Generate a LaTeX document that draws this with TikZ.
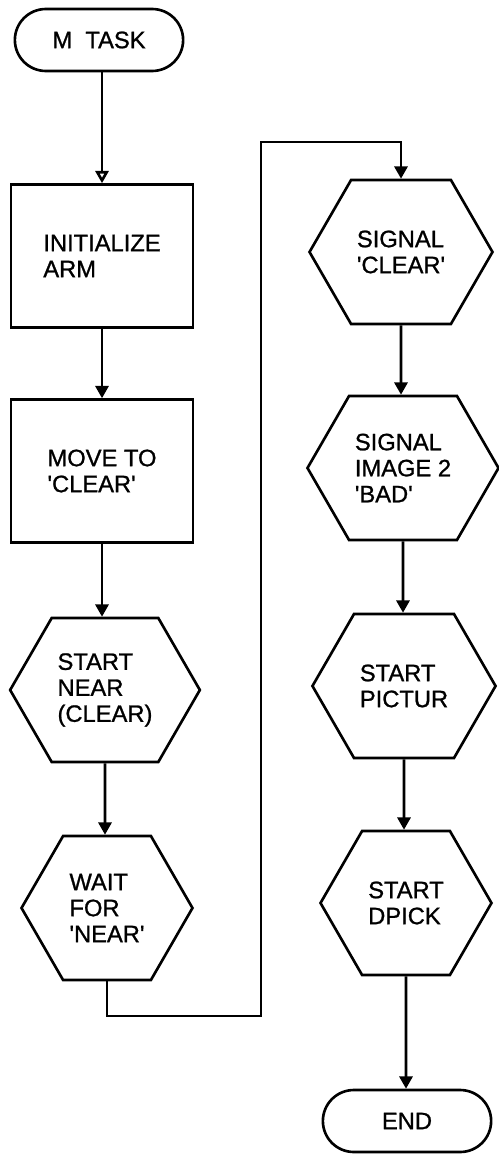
\documentclass[tikz,border=0pt]{standalone}
\usepackage{fontspec}
\setmainfont{Liberation Sans}[FakeBold=1]
\usetikzlibrary{arrows.meta,shapes.misc,shapes.symbols}
\newcommand{\q}{\textquotesingle}

\begin{document}
\begin{tikzpicture}[x=0.02cm,y=-0.02cm,
  every node/.style={font=\fontsize{13.5}{14.8}\selectfont, align=left, line width=1.5pt},
  term/.style={draw, rounded rectangle, minimum width=3.6cm, minimum height=1.24cm},
  proc/.style={draw, rectangle, minimum width=3.64cm, minimum height=2.86cm},
  hexa/.style={draw, signal, signal to=east and west, signal pointer angle=120,
    minimum width=3.42cm, minimum height=2.88cm},
  flow/.style={line width=1.5pt, -{Triangle[length=7pt,width=7.5pt]}}]
  \useasboundingbox (0,0) rectangle (498,1155);

  % Left column
  \node[term] (mtask) at (99,40) {M\ \ TASK};
  \node[proc] (init) at (102,256) {INITIALIZE\\ARM};
  \node[proc] (move) at (102,471) {MOVE TO\\\q CLEAR\q};
  \node[hexa] (near) at (105,690) {START\\NEAR\\(CLEAR)};
  \node[hexa] (wait) at (107,908) {WAIT\\FOR\\\q NEAR\q};

  % Loop over to the right column
  \coordinate (low) at (261,1016);
  \coordinate (high) at (261,142);

  % Right column
  \node[hexa] (sclear) at (401,252) {SIGNAL\\\q CLEAR\q};
  \node[hexa] (sbad) at (403,468) {SIGNAL\\IMAGE 2\\\q BAD\q};
  \node[hexa] (pictur) at (404,686) {START\\PICTUR};
  \node[hexa] (dpick) at (406,903) {START\\DPICK};
  \node[term] (end) at (407,1121) {END};

  % Edges in the left column
  \draw[line width=1.5pt, -{Triangle[open,length=7pt,width=7.5pt]}] (mtask.south -| init) -- (init);
  \draw[flow] (init) -- (move);
  \draw[flow] (move) -- (near.north -| move);
  \draw[flow] (near) -- (wait.north -| near);

  % Edge from wait to signal clear
  \draw[flow] (wait.south) |- (low) -- (high) -| (sclear.north);

  % Edges in the right column
  \draw[flow] (sclear) -- (sbad.north -| sclear);
  \draw[flow] (sbad) -- (pictur.north -| sbad);
  \draw[flow] (pictur) -- (dpick.north -| pictur);
  \draw[flow] (dpick) -- (end.north -| dpick);
\end{tikzpicture}
\end{document}
